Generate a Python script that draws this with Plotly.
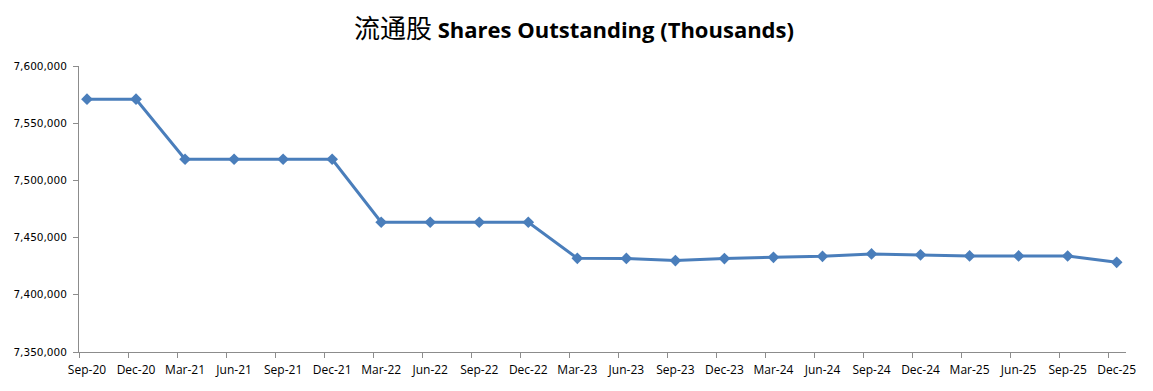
import plotly.graph_objects as go

categories = ["Sep-20", "Dec-20", "Mar-21", "Jun-21", "Sep-21", "Dec-21", "Mar-22", "Jun-22",
              "Sep-22", "Dec-22", "Mar-23", "Jun-23", "Sep-23", "Dec-23", "Mar-24", "Jun-24",
              "Sep-24", "Dec-24", "Mar-25", "Jun-25", "Sep-25", "Dec-25"]
shares = [7571000, 7571000, 7518500, 7518500, 7518500, 7518500, 7463400, 7463400,
          7463400, 7463400, 7431900, 7431800, 7429900, 7431700, 7432800, 7433600,
          7435700, 7434900, 7434000, 7434000, 7433900, 7428400]
y_ticks = [7350000, 7400000, 7450000, 7500000, 7550000, 7600000]

x = list(range(len(categories)))
offset = 0.163

fig = go.Figure()
fig.add_trace(go.Scatter(
    x=x, y=shares, mode="lines+markers",
    line=dict(color="#4A7EBB", width=3),
    marker=dict(symbol="diamond", size=9, color="#4A7EBB"),
    hoverinfo="skip", showlegend=False,
))

fig.update_layout(
    width=1145, height=383,
    paper_bgcolor="white", plot_bgcolor="white",
    margin=dict(l=71, r=27, t=58, b=39),
    title=dict(
        text='<span style="font-family:\'Noto Sans CJK SC\';font-weight:normal;font-size:26px">流通股</span> Shares Outstanding (Thousands)',
        x=0.4943, xanchor="center", y=0.9426, yanchor="middle",
        font=dict(family="Open Sans", size=22, color="black", weight="bold"),
    ),
)

fig.update_xaxes(
    range=[-offset, len(categories) - 1 + 0.19],
    tickmode="array", tickvals=x, ticktext=categories,
    ticks="", showgrid=False, zeroline=False, automargin=False,
    showline=True, linecolor="#8C8C8C", linewidth=1,
    ticklabelstandoff=7,
    tickfont=dict(family="Open Sans", size=12, color="black"),
    minor=dict(tickmode="array", tickvals=[i - offset for i in x], ticks="outside",
               ticklen=5, tickcolor="#8C8C8C", tickwidth=1, showgrid=False),
)
fig.update_yaxes(
    range=[7350000, 7600000],
    tickmode="array", tickvals=y_ticks, ticktext=[f"{v:,}" for v in y_ticks],
    ticks="outside", ticklen=5, tickcolor="#8C8C8C",
    showgrid=False, zeroline=False, automargin=False,
    showline=True, linecolor="#8C8C8C", linewidth=1,
    ticklabelstandoff=4,
    tickfont=dict(family="DejaVu Sans", size=10.5, color="black"),
)

fig.write_html("out.html")
